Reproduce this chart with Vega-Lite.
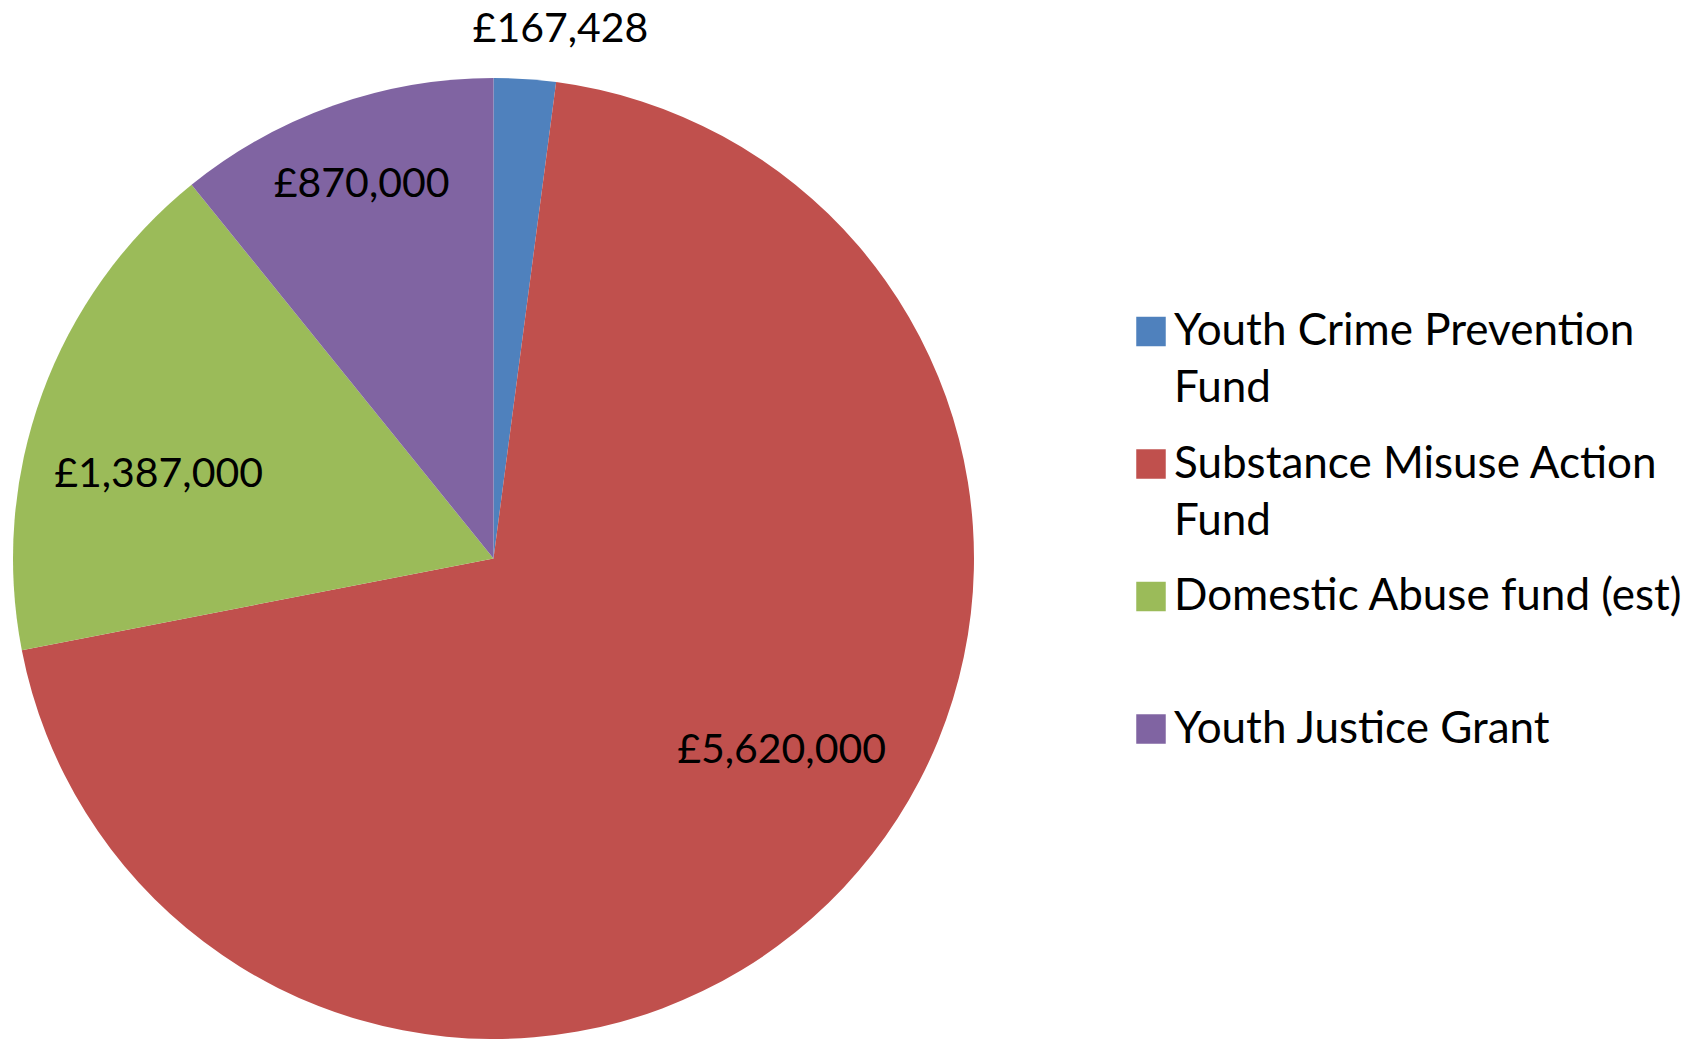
{
  "$schema": "https://vega.github.io/schema/vega-lite/v6.json",
  "width": 961,
  "height": 961,
  "autosize": {"type": "none"},
  "padding": {"left": 13, "top": 78, "right": 734, "bottom": 0},
  "background": "white",
  "config": {
    "view": {"stroke": null},
    "style": {"guide-label": {"lineHeight": 57}}
  },
  "data": {
    "values": [
      {"idx": 1, "fund": "Youth Crime Prevention Fund", "amount": 167428, "label": "£167,428"},
      {"idx": 2, "fund": "Substance Misuse Action Fund", "amount": 5620000, "label": "£5,620,000"},
      {"idx": 3, "fund": "Domestic Abuse fund (est)", "amount": 1387000, "label": "£1,387,000"},
      {"idx": 4, "fund": "Youth Justice Grant", "amount": 870000, "label": "£870,000"}
    ]
  },
  "encoding": {
    "theta": {"field": "amount", "type": "quantitative", "stack": true},
    "order": {"field": "idx", "type": "quantitative"}
  },
  "layer": [
    {
      "mark": {"type": "arc", "outerRadius": 480.5, "strokeWidth": 0},
      "encoding": {
        "color": {
          "field": "fund",
          "type": "nominal",
          "scale": {
            "domain": ["Youth Crime Prevention Fund", "Substance Misuse Action Fund", "Domestic Abuse fund (est)", "Youth Justice Grant"],
            "range": ["#4F81BD", "#C0504D", "#9BBB59", "#8064A2"]
          },
          "legend": {
            "title": null,
            "orient": "none",
            "direction": "vertical",
            "legendX": 1116,
            "legendY": 245,
            "symbolType": "M-1,-1.915H1V0.085H-1Z",
            "symbolSize": 870,
            "symbolStrokeWidth": 0,
            "symbolOpacity": 1,
            "labelFont": "Lato",
            "labelFontSize": 44,
            "labelColor": "black",
            "labelLimit": 0,
            "labelBaseline": "alphabetic",
            "labelOffset": 1,
            "gridAlign": "all",
            "rowPadding": 31.5,
            "labelExpr": "datum.label == 'Youth Crime Prevention Fund' ? ['Youth Crime Prevention', 'Fund'] : datum.label == 'Substance Misuse Action Fund' ? ['Substance Misuse Action', 'Fund'] : datum.label"
          }
        }
      }
    },
    {
      "mark": {"type": "text", "radius": 535.7, "thetaOffset": 0.06, "dy": 3, "font": "Lato", "fontSize": 41, "color": "black", "baseline": "middle"},
      "encoding": {
        "detail": {"field": "fund", "type": "nominal"},
        "text": {"condition": {"test": "datum.idx == 1", "field": "label", "type": "nominal"}, "value": ""}
      }
    },
    {
      "mark": {"type": "text", "radius": 345, "thetaOffset": -0.172, "dy": 3, "font": "Lato", "fontSize": 41, "color": "black", "baseline": "middle"},
      "encoding": {
        "detail": {"field": "fund", "type": "nominal"},
        "text": {"condition": {"test": "datum.idx == 2", "field": "label", "type": "nominal"}, "value": ""}
      }
    },
    {
      "mark": {"type": "text", "radius": 346, "thetaOffset": -0.096, "dy": 3, "font": "Lato", "fontSize": 41, "color": "black", "baseline": "middle"},
      "encoding": {
        "detail": {"field": "fund", "type": "nominal"},
        "text": {"condition": {"test": "datum.idx == 3", "field": "label", "type": "nominal"}, "value": ""}
      }
    },
    {
      "mark": {"type": "text", "radius": 399, "thetaOffset": 0.003, "dy": 3, "font": "Lato", "fontSize": 41, "color": "black", "baseline": "middle"},
      "encoding": {
        "detail": {"field": "fund", "type": "nominal"},
        "text": {"condition": {"test": "datum.idx == 4", "field": "label", "type": "nominal"}, "value": ""}
      }
    }
  ]
}
